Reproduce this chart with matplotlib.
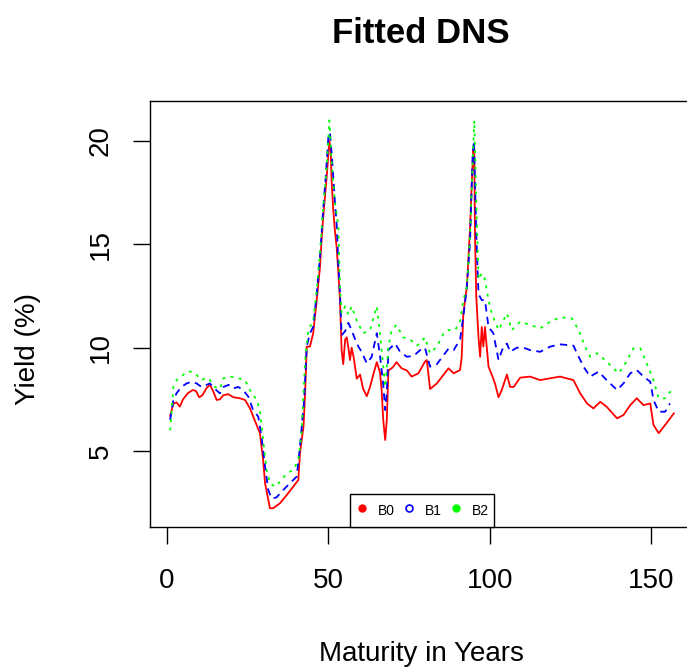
import matplotlib
matplotlib.use("Agg")
import matplotlib.pyplot as plt
from matplotlib.lines import Line2D

plt.rcParams['font.family'] = ['Liberation Sans', 'DejaVu Sans']

title = "Fitted DNS"
xlabel = "Maturity in Years"
ylabel = "Yield (%)"
labels = ["B0", "B1", "B2"]
colors = ["#FF0000", "#0000FF", "#00FF00"]
xticks = [0, 50, 100, 150]
yticks = [5, 10, 15, 20]

b0_x = [1, 2, 3, 4, 5, 6.5, 8, 9, 10, 11, 12.3, 13.3, 14.3, 15.4, 16.4, 17.5, 19, 20.6, 22.6, 24.2,
        25.7, 27.8, 28.8, 29.8, 30.4, 31.4, 31.9, 32.9, 35, 37.1, 39.1, 40.7, 41.2, 42.3, 42.8, 43.3,
        44.3, 45.3, 46.4, 47.4, 47.9, 48.4, 49.5, 50, 50.3, 50.7, 51, 51.5, 52, 52.6, 53.1, 53.6,
        54.1, 54.6, 55.2, 55.7, 56.2, 56.7, 57.2, 57.8, 58.8, 59.8, 60.8, 61.9, 62.9, 64, 65, 66,
        66.5, 67, 67.6, 68.1, 68.6, 69.6, 70.1, 71.1, 72.7, 74.3, 75.8, 77.9, 79.9, 80.5, 81.5, 83.6,
        85.7, 87.2, 88.8, 90.8, 91.3, 91.8, 92.9, 93.9, 94.4, 94.9, 95.2, 95.4, 95.8, 96.5, 97,
        97.5, 98, 98.5, 99.6, 100.6, 101.6, 102.7, 103.7, 105.3, 106.3, 107.4, 109.4, 112.5, 115.6,
        118.7, 121.8, 125.9, 128, 130.1, 132.1, 134.2, 136.2, 139.4, 141.4, 143.5, 145.5, 147.6,
        149.7, 150.7, 152.3, 154.3, 157]
b0_y = [6.7, 7.3, 7.35, 7.15, 7.5, 7.8, 7.95, 7.9, 7.6, 7.7, 8.05, 8.2, 7.9, 7.47, 7.5, 7.7, 7.75, 7.6, 7.55, 7.47,
        7.07, 6.26, 5.86, 4.56, 3.44, 2.63, 2.23, 2.23, 2.47, 2.87, 3.27, 3.6, 4.89, 6.18, 7.79, 10.05,
        10.05, 10.7, 12.3, 13.9, 15.2, 16.3, 18.3, 19.4, 20.0, 19.6, 18.1, 16.7, 15.7, 14.8, 13.6, 12.3,
        9.9, 9.2, 10.4, 10.5, 10.0, 9.4, 10.0, 9.56, 8.5, 8.7, 8.0, 7.65, 8.1, 8.75, 9.3, 8.8,
        7.95, 6.5, 5.53, 6.5, 8.9, 9.0, 9.08, 9.3, 9.0, 8.9, 8.6, 8.76, 9.32, 9.4, 8.0, 8.27,
        8.7, 9.0, 8.76, 8.92, 9.56, 11.66, 12.95, 15.85, 17.95, 19.56, 19.3, 15.5, 12.5, 10.5, 9.56,
        11.0, 10.05, 11.0, 9.08, 8.7, 8.27, 7.6, 7.95, 8.7, 8.1, 8.1, 8.55, 8.6, 8.43,
        8.52, 8.6, 8.43, 7.79, 7.3, 7.06, 7.38, 7.14, 6.58, 6.74, 7.22, 7.55, 7.22,
        7.3, 6.26, 5.86, 6.26, 6.82]

b1_x = [1, 2, 3, 4.5, 6.1, 7.7, 9.2, 10.7, 12.3, 13.3, 14.9, 16.4, 17.5, 19.1, 20.6, 22.1, 23.6, 25.2,
        26.7, 28.3, 29.3, 30.4, 31.4, 32.4, 33.9, 36, 38.1, 40.2, 41.2, 42.5, 43.3, 44.3, 45.3, 46.4,
        47.4, 48.4, 49.2, 50, 50.5, 51.3, 52, 52.6, 53.1, 53.6, 54.1, 55.2, 56.2, 57.2, 58.3, 59.3,
        60.3, 61.9, 63.4, 65, 66, 67, 67.6, 68.1, 68.6, 70.7, 72.2, 74.3, 76.4, 78.4, 79.9, 81.5,
        83.6, 85.7, 87.2, 88.8, 90.8, 91.8, 92.9, 93.9, 94.7, 95.1, 95.8, 96.5, 97.5, 98.5, 99.6,
        101.1, 102.7, 104.2, 105.3, 106.3, 108.4, 110.4, 112.5, 115.6, 118.7, 121.8, 125.9, 127, 129,
        131.1, 133.7, 136.2, 139.4, 141.4, 143.5, 145.5, 147.6, 149.7, 150.7, 152.3, 154.3, 155.8]
b1_y = [6.5, 7.47, 7.8, 8.1, 8.27, 8.35, 8.27, 8.1, 8.2, 8.27, 8.0, 7.79, 8.1, 8.2, 8.03, 8.1, 7.95, 7.63,
        6.98, 6.66, 5.69, 4.24, 3.11, 2.71, 2.75, 3.11, 3.44, 3.76, 5.21, 7.47, 10.05, 10.7, 11.0, 12.6,
        14.4, 16.7, 18.3, 20.2, 20.4, 18.8, 17.1, 15.9, 14.0, 12.6, 10.6, 10.8, 11.2, 10.85, 10.4, 10.05,
        9.8, 9.24, 9.55, 10.7, 9.6, 8.2, 6.98, 7.8, 9.9, 10.2, 9.8, 9.56, 9.6, 9.88, 10.0, 9.08,
        9.2, 9.64, 9.95, 9.88, 10.4, 11.5, 12.95, 15.2, 19.4, 20.0, 15.5, 12.6, 12.3, 12.3, 11.0,
        10.7, 9.4, 10.05, 10.2, 9.8, 10.0, 10.0, 9.88, 9.8, 10.05, 10.16, 10.1, 9.73, 9.08,
        8.6, 8.84, 8.43, 7.95, 8.27, 8.76, 8.92, 8.6, 8.35, 7.47, 6.9, 6.9, 7.3]

b2_x = [1, 2, 3, 4.5, 6.1, 7.7, 9.2, 10.7, 12.3, 13.3, 14.9, 16.4, 17.5, 19.5, 21.5, 24.2, 25.7, 27.8,
        28.8, 29.8, 30.9, 31.9, 33.5, 35.5, 37.1, 39.1, 40.7, 41.7, 42.8, 43.8, 45.3, 46.4, 47.4,
        48.4, 49.5, 50.3, 51, 52, 53.1, 53.6, 54.1, 55.2, 56.2, 57.2, 58.8, 60.8, 62.9, 65, 66, 67,
        67.6, 68.6, 69.6, 71.1, 73.2, 75.3, 77.4, 78.4, 79.9, 81.5, 83.6, 85.7, 87.2, 89.3, 90.8,
        91.8, 92.9, 93.9, 94.7, 95.2, 95.8, 96.5, 97.5, 98.5, 99.6, 100.6, 102.7, 105.3, 106.8,
        109.4, 112.5, 115.6, 118.7, 121.8, 125.4, 127.5, 129.5, 131.1, 133.2, 135.7, 137.8, 139.9,
        142, 144.5, 146.6, 148.6, 150.7, 152.3, 154.3, 157]
b2_y = [6.0, 8.1, 8.43, 8.6, 8.84, 8.84, 8.68, 8.43, 8.55, 8.43, 8.1, 8.0, 8.52, 8.6, 8.55, 8.43, 7.95, 7.47,
        6.98, 5.53, 4.08, 3.44, 3.27, 3.6, 3.92, 4.08, 4.56, 5.86, 9.4, 10.85, 11.3, 12.8, 14.6,
        16.8, 18.75, 21.0, 19.0, 17.1, 15.85, 12.95, 11.66, 12.0, 11.6, 12.0, 11.3, 10.7, 10.85, 12.0, 10.7, 9.08,
        8.1, 10.05, 10.85, 11.1, 10.5, 10.4, 10.1, 10.2, 10.5, 9.73, 10.05, 10.7, 10.85, 10.85, 11.3,
        12.3, 12.95, 15.5, 19.0, 21.0, 17.1, 13.3, 13.6, 13.3, 12.3, 11.66, 10.85, 11.66, 10.85,
        11.26, 11.1, 10.93, 11.26, 11.47, 11.42, 10.85, 10.05, 9.56, 9.73, 9.4, 9.08, 8.76,
        9.24, 9.97, 9.97, 9.24, 8.43, 7.55, 7.55, 8.1]

W, H = 687, 670
fig = plt.figure(figsize=(W / 100, H / 100), dpi=100)
ax = fig.add_axes([150 / W, (H - 527) / H, 544 / W, 426 / H])

lw = 1.3
ax.plot(b0_x, b0_y, color=colors[0], lw=lw, linestyle='-')
ax.plot(b1_x, b1_y, color=colors[1], lw=lw, linestyle=(0, (4, 3)))
ax.plot(b2_x, b2_y, color=colors[2], lw=lw, linestyle=(0, (1.6, 3)))

ax.set_xlim(-5.24, 163.24)
ax.set_ylim(1.323, 21.935)
ax.set_xticks(xticks)
ax.set_yticks(yticks)
ax.tick_params(direction='out', length=12.2, width=1.0, labelsize=20, colors='black')
ax.tick_params(axis='x', pad=17)
ax.tick_params(axis='y', pad=14, labelrotation=90)
for t in ax.get_yticklabels():
    t.set_va('center')
for s in ax.spines.values():
    s.set_linewidth(1.0)
    s.set_color('black')

fig.text(421 / W, 1 - 43 / H, title, ha='center', va='baseline', fontsize=25, fontweight='bold')
fig.text(421 / W, 1 - 661 / H, xlabel, ha='center', va='baseline', fontsize=20)
fig.text(28 / W, 1 - 349 / H, ylabel, ha='center', va='center', rotation=90, fontsize=20)

handles = [
    Line2D([], [], linestyle='none', marker='o', markersize=5, color=colors[0], markerfacecolor=colors[0]),
    Line2D([], [], linestyle='none', marker='o', markersize=5, color=colors[1], markerfacecolor='none', markeredgewidth=1.2),
    Line2D([], [], linestyle='none', marker='o', markersize=5, color=colors[2], markerfacecolor=colors[2]),
]
leg = ax.legend(handles, labels, ncol=3, loc='lower center', bbox_to_anchor=(0.5, 0.0),
                fontsize=10, frameon=True, fancybox=False, framealpha=1, edgecolor='black',
                handlelength=1.0, handletextpad=0.65, columnspacing=0.5, borderpad=0.4,
                handleheight=2.0, borderaxespad=0)
leg.get_frame().set_linewidth(1.0)

fig.savefig("out.png", dpi=100)
